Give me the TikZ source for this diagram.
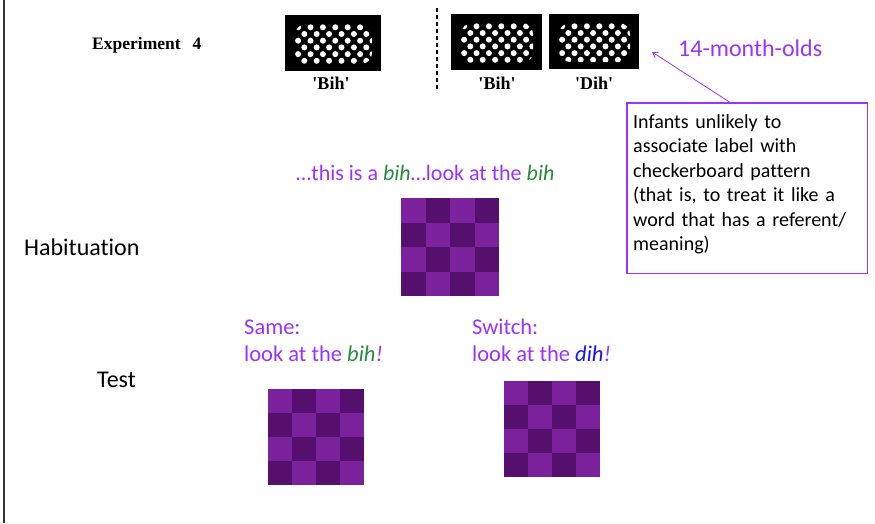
\documentclass[tikz,border=0pt]{standalone}
\usepackage{fontspec}
\usetikzlibrary{arrows.meta}
\setmainfont{Carlito}[Ligatures=NoCommon]
\newfontfamily\timesf{Liberation Serif}
\definecolor{purp}{RGB}{153,51,255}
\definecolor{grn}{RGB}{40,140,60}
\definecolor{blu}{RGB}{20,20,255}
\definecolor{chkL}{RGB}{124,34,156}
\definecolor{chkD}{RGB}{84,16,108}
\tikzset{
  stim/.style={fill=black, inner sep=0pt, anchor=north west},
  scanlab/.style={font=\timesf\bfseries\fontsize{18}{20}\selectfont, anchor=base, inner sep=0pt},
  ptext/.style={text=purp, font=\fontsize{22.5}{26}\selectfont, anchor=base west, inner sep=0pt},
  btext/.style={text=black, font=\fontsize{24}{28}\selectfont, anchor=base west, inner sep=0pt},
  note/.style={inner sep=0pt, anchor=north west},
  noteframe/.style={draw=purp, line width=1.2pt},
}
\newcommand{\grid}[3]{% x, y, cell
  \foreach \i in {0,...,3} \foreach \j in {0,...,3} {
    \pgfmathtruncatemacro\m{mod(\i+\j,2)}
    \ifnum\m=0
      \fill[chkL] ({#1+\i*#3},{#2+\j*#3}) rectangle ++(#3,#3);
    \else
      \fill[chkD] ({#1+\i*#3},{#2+\j*#3}) rectangle ++(#3,#3);
    \fi
  }}
\begin{document}
\begin{tikzpicture}[x=1pt,y=-1pt]
\useasboundingbox (0,0) rectangle (875,523);
\fill[white] (0,0) rectangle (875,523);
\draw[line width=1.5pt, black!80] (4,0) -- (4,523);

% scanned figure
\node[anchor=base west, font=\timesf\bfseries\fontsize{17.5}{20}\selectfont, inner sep=0pt] (exp) at (92,49) {Experiment\hspace{12pt}4};
\foreach \n/\L/\T/\W/\H in {b1/285/15/96/56, b2/451/14/91/56, b3/549/14/90/55} {
  \node[stim, minimum width=\W pt, minimum height=\H pt] (\n) at (\L,\T) {};
  \begin{scope}
    \clip[rounded corners=11pt] (\L+10,\T+9) rectangle (\L+\W-9,\T+\H-7);
    \foreach \c in {0,...,13} \foreach \r in {0,...,6} {
      \pgfmathtruncatemacro\m{mod(\c+\r,2)}
      \ifnum\m=0
        \fill[white] ({\L+10+3.1+\c*6.2},{\T+9+3.3+\r*6.7}) circle (3.0);
      \fi
    }
  \end{scope}
}
\node[scanlab] (l1) at (331,89) {'Bih'};
\node[scanlab] (l2) at (497,89) {'Bih'};
\node[scanlab] (l3) at (594,89) {'Dih'};
\draw[line width=1.6pt, dash pattern=on 4pt off 3pt] (437,8) -- (437,92);

\node[ptext, font=\fontsize{24}{28}\selectfont] (age) at (678,56) {14-month-olds};
\node[note, minimum width=240pt, minimum height=170pt] (tb) at (627,103) {};
\draw[noteframe] (tb.north west) rectangle (tb.south east);
\node[anchor=north west, inner sep=0pt, text width=234pt, align=left,
      font=\fontsize{20}{24.5}\selectfont] (tbtext) at (633,114)
  {Infants unlikely to\\associate label with\\checkerboard pattern\\(that is, to treat it like a\\word that has a referent/\\meaning)};
\coordinate (tip) at (652,52);
\draw[purp, line width=0.8pt, -{Straight Barb[length=5pt,width=6pt]}] ([xshift=104pt]tb.north west) -- (tip);

% habituation
\node[ptext, font=\fontsize{22}{26}\selectfont] (habt) at (296,180) {…this is a \textcolor{grn}{\textit{bih}}…look at the \textcolor{grn}{\textit{bih}}};
\node[btext] (hab) at (24,255) {Habituation};
\grid{401}{198}{24.5}

% test
\node[btext] (test) at (97,387) {Test};
\node[ptext] (s1) at (244,334) {Same:};
\node[ptext] (s2) at (244,361) {look at the \textcolor{grn}{\textit{bih}}\textit{!}};
\node[ptext] (w1) at (472,334) {Switch:};
\node[ptext] (w2) at (472,361) {look at the \textcolor{blu}{\textit{dih}}\textit{!}};
\grid{268}{389}{24}
\grid{504}{381}{24}
\end{tikzpicture}
\end{document}
